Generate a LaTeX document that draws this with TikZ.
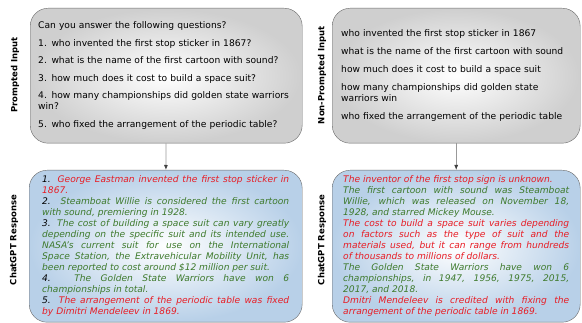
\documentclass[tikz,border=0pt]{standalone}
\usepackage{fontspec}
\setmainfont{DejaVu Sans}
\usepackage{xcolor}
\usetikzlibrary{shapes,arrows,positioning,calc,arrows.meta}
\definecolor{wrongred}{RGB}{232,28,36}
\definecolor{rightgreen}{RGB}{62,122,44}
\definecolor{edgegray}{RGB}{105,105,105}
\definecolor{boxblue}{RGB}{184,208,232}
\hyphenpenalty=10000

\begin{document}
\begin{tikzpicture}[x=1pt, y=-1pt,
  inbox/.style={draw=edgegray, rounded corners=18pt, shading=radial, inner color=white, outer color=gray!38,
    anchor=north west, align=left, font=\fontsize{9.15}{11}\selectfont},
  outbox/.style={draw=edgegray, rounded corners=18pt, shading=radial, inner color=white, outer color=boxblue,
    anchor=north west, align=justify, font=\itshape\fontsize{9.1}{11}\selectfont},
  sidelabel/.style={rotate=90, font=\bfseries\fontsize{8.5}{10}\selectfont},
  flow/.style={draw=gray!80, thick, -{Latex[length=5pt,width=4pt,color=black!75]}}]
\useasboundingbox (0,0) rectangle (582,323);

% questions
\node[inbox, text width=256pt, inner xsep=8pt, minimum width=272pt, minimum height=135pt] (pin) at (30,8) {%
  Can you answer the following questions?\\[6.5pt]
  1. who invented the first stop sticker in 1867?\\[6.5pt]
  2. what is the name of the first cartoon with sound?\\[6.5pt]
  3. how much does it cost to build a space suit?\\[6.5pt]
  4. how many championships did golden state warriors\\win?\\[6.5pt]
  5. who fixed the arrangement of the periodic table?};
\node[inbox, text width=230pt, inner xsep=9pt, minimum width=248pt, minimum height=135pt] (npin) at (332,8) {%
  who invented the first stop sticker in 1867\\[7pt]
  what is the name of the first cartoon with sound\\[7pt]
  how much does it cost to build a space suit\\[7pt]
  how many championships did golden state\\warriors win\\[7pt]
  who fixed the arrangement of the periodic table};

% answers
\node[outbox, text width=247pt, inner xsep=13pt, minimum width=273pt, minimum height=152pt] (pres) at (29,170) {%
  1. \textcolor{wrongred}{George Eastman invented the first stop sticker in\linebreak 1867.}\\
  2. \textcolor{rightgreen}{Steamboat Willie is considered the first cartoon\linebreak with sound, premiering in 1928.}\\
  3. \textcolor{rightgreen}{The cost of building a space suit can vary greatly\linebreak
  depending on the specific suit and its intended use.\linebreak
  NASA's current suit for use on the International\linebreak
  Space Station, the Extravehicular Mobility Unit, has\linebreak
  been reported to cost around \$12 million per suit.}\\
  4. \textcolor{rightgreen}{The Golden State Warriors have won 6\linebreak championships in total.}\\
  5. \textcolor{wrongred}{The arrangement of the periodic table was fixed\linebreak by Dimitri Mendeleev in 1869.}};
\node[outbox, text width=226pt, inner xsep=11pt, minimum width=248pt, minimum height=152pt] (npres) at (332,170) {%
  \textcolor{wrongred}{The inventor of the first stop sign is unknown.}\\
  \textcolor{rightgreen}{The first cartoon with sound was Steamboat\linebreak
  Willie, which was released on November 18,\linebreak 1928, and starred Mickey Mouse.}\\
  \textcolor{wrongred}{The cost to build a space suit varies depending\linebreak
  on factors such as the type of suit and the\linebreak
  materials used, but it can range from hundreds\linebreak
  of thousands to millions of dollars.}\\
  \textcolor{rightgreen}{The Golden State Warriors have won 6\linebreak
  championships, in 1947, 1956, 1975, 2015,\linebreak 2017, and 2018.}\\
  \textcolor{wrongred}{Dmitri Mendeleev is credited with fixing the\linebreak
  arrangement of the periodic table in 1869.}};

% side labels
\node[sidelabel] (pinlab) at (15,75) {Prompted Input};
\node[sidelabel] (npinlab) at (322,75) {Non-Prompted Input};
\node[sidelabel] (preslab) at (14,240) {ChatGPT Response};
\node[sidelabel] (npreslab) at (322,240) {ChatGPT Response};

\draw[flow] (pin) -- (pres);
\draw[flow] (npin) -- (npres);
\end{tikzpicture}
\end{document}
